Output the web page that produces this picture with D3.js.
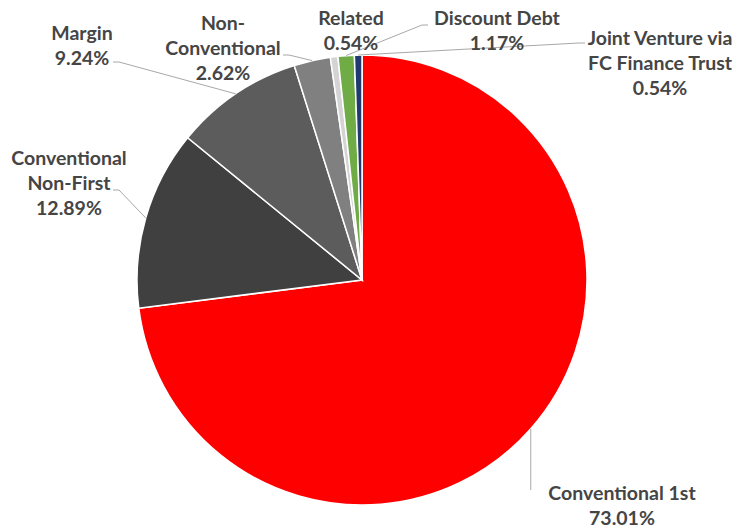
<!DOCTYPE html>
<html>
<head>
<meta charset="utf-8">
<script src="https://cdn.jsdelivr.net/npm/d3@7"></script>
<style>
  body { margin: 0; background: #fff; }
  svg text { font-family: Lato, "Open Sans", sans-serif; font-weight: 700; fill: #454545; }
</style>
</head>
<body>
<div id="chart"></div>
<script>
// data, clockwise from 12 o'clock
const categories = ["Conventional 1st", "Conventional Non-First", "Margin", "Non-Conventional", "Related", "Discount Debt", "Joint Venture via FC Finance Trust"];
const values = [73.01, 12.89, 9.24, 2.62, 0.54, 1.17, 0.54];
const labelLines = [
  ["Conventional 1st", "73.01%"],
  ["Conventional", "Non-First", "12.89%"],
  ["Margin", "9.24%"],
  ["Non-", "Conventional", "2.62%"],
  ["Related", "0.54%"],
  ["Discount Debt", "1.17%"],
  ["Joint Venture via", "FC Finance Trust", "0.54%"]
];
const colors = ["#ff0000", "#404040", "#5c5c5c", "#808080", "#d4d4d4", "#6fac46", "#1f3a6e"];

// layout
const width = 736, height = 525;
const cx = 362, cy = 280, radius = 225;
const lineH = 25;
// label block centre (x) and first baseline (y)
const labelPos = [[622, 500], [69, 165], [82, 40], [223, 30], [351, 25], [497, 25], [660, 45]];
// leader end near label, with short elbow
const leaderEnd = [[532, 490], [113, 190], [113, 62], [283, 55], null, [428, 25], [585, 43]];

const svg = d3.select("#chart").append("svg")
  .attr("width", width)
  .attr("height", height);

const pie = d3.pie().sort(null).value(d => d)(values);
const arc = d3.arc().innerRadius(0).outerRadius(radius);

const g = svg.append("g").attr("transform", `translate(${cx}, ${cy})`);

g.selectAll("path.slice")
  .data(pie)
  .enter()
  .append("path")
  .attr("class", "slice")
  .attr("d", arc)
  .attr("fill", (d, i) => colors[i])
  .attr("stroke", "#fff")
  .attr("stroke-width", 1.5);

// leader lines from slice edge to labels
pie.forEach((d, i) => {
  if (!leaderEnd[i]) return;
  const mid = (d.startAngle + d.endAngle) / 2;
  const p = [cx + radius * Math.sin(mid), cy - radius * Math.cos(mid)];
  const e = leaderEnd[i];
  let pts;
  if (i == 0) pts = [p, [p[0], e[1]]];
  else if (e[0] < p[0]) pts = [e, [e[0] + 6, e[1]], p];
  else pts = [p, [e[0] - 6, e[1]], e];
  svg.append("path")
    .attr("d", d3.line()(pts))
    .attr("fill", "none")
    .attr("stroke", "#a8a8a8")
    .attr("stroke-width", 1);
});

labelLines.forEach((lines, i) => {
  const t = svg.append("text")
    .attr("text-anchor", "middle")
    .style("font-size", "19.5px");
  lines.forEach((s, j) => {
    t.append("tspan")
      .attr("x", labelPos[i][0])
      .attr("y", labelPos[i][1] + j * lineH)
      .text(s);
  });
});
</script>
</body>
</html>
